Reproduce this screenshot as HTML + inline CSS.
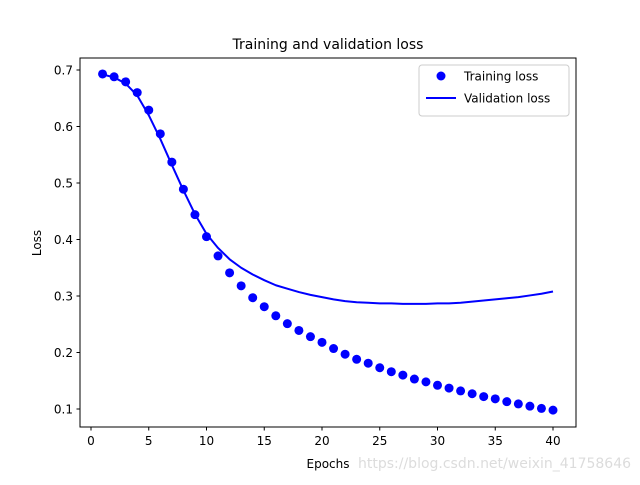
<!DOCTYPE html>
<html><head><meta charset="utf-8"><style>
body{margin:0;background:#fff}
svg text{font-family:"DejaVu Sans","Liberation Sans",sans-serif;fill:#000}
</style></head><body>
<svg id="chart" width="640" height="480" viewBox="0 0 640 480" xmlns="http://www.w3.org/2000/svg">
<rect x="0" y="0" width="640" height="480" fill="#fff"/>
<text x="328" y="49" font-size="14" text-anchor="middle">Training and validation loss</text>
<g id="plot"></g>
<rect x="80" y="58" width="496" height="369" fill="none" stroke="#000" stroke-width="1"/>
<g id="xticks"></g><g id="yticks"></g>
<text x="328" y="468" font-size="12" text-anchor="middle">Epochs</text>
<text transform="translate(41,243) rotate(-90)" font-size="12" text-anchor="middle">Loss</text>
<g>
<rect x="419" y="65" width="150" height="51" rx="3" fill="#fff" fill-opacity="0.8" stroke="#ccc"/>
<circle cx="441" cy="76" r="4.5" fill="#0000ff"/>
<text x="464" y="80.5" font-size="12">Training loss</text>
<line x1="426" y1="98" x2="456" y2="98" stroke="#0000ff" stroke-width="2"/>
<text x="464" y="102.5" font-size="12">Validation loss</text>
</g>
<text x="358" y="468" font-size="14" style="fill:#dcdcdc">https://blog.csdn.net/weixin_41758646</text>
</svg>
<script>
const epochs=[1,2,3,4,5,6,7,8,9,10,11,12,13,14,15,16,17,18,19,20,21,22,23,24,25,26,27,28,29,30,31,32,33,34,35,36,37,38,39,40];
const trainLoss=[0.693,0.688,0.679,0.660,0.629,0.587,0.537,0.489,0.444,0.405,0.371,0.341,0.318,0.297,0.281,0.265,0.251,0.239,0.228,0.218,0.207,0.197,0.188,0.181,0.173,0.166,0.160,0.153,0.148,0.142,0.137,0.132,0.127,0.122,0.118,0.113,0.109,0.105,0.101,0.098];
const valLoss=[0.692,0.687,0.676,0.655,0.620,0.578,0.532,0.487,0.445,0.410,0.385,0.365,0.350,0.338,0.328,0.319,0.313,0.307,0.302,0.298,0.294,0.291,0.289,0.288,0.287,0.287,0.286,0.286,0.286,0.287,0.287,0.288,0.290,0.292,0.294,0.296,0.298,0.301,0.304,0.308];
const xTicks=[0,5,10,15,20,25,30,35,40];
const yTicks=[0.1,0.2,0.3,0.4,0.5,0.6,0.7];
const NS="http://www.w3.org/2000/svg";
function xs(v){return 91+v*11.55;}
function ys(v){return 70+(0.7-v)*565;}
function mk(tag,attrs,parent){const e=document.createElementNS(NS,tag);for(const k in attrs)e.setAttribute(k,attrs[k]);parent.appendChild(e);return e;}
const plot=document.getElementById('plot');
const pts=epochs.map((e,i)=>xs(e).toFixed(2)+','+ys(valLoss[i]).toFixed(2)).join(' ');
const pl=mk('polyline',{points:pts,fill:'none',stroke:'#0000ff','stroke-width':2,'stroke-linejoin':'round'},plot);


epochs.forEach((e,i)=>{
 const c=mk('circle',{cx:xs(e),cy:ys(trainLoss[i]),r:4.5,fill:'#0000ff'},plot);
 
 
});
const xg=document.getElementById('xticks');
xTicks.forEach(t=>{
 const x=xs(t);
 const l=mk('line',{x1:x,y1:427,x2:x,y2:430.5,stroke:'#000'},xg);
 
 
 const tx=mk('text',{x:x,y:445,'font-size':12,'text-anchor':'middle'},xg);
 tx.textContent=t;
 
 
});
const yg=document.getElementById('yticks');
yTicks.forEach(t=>{
 const y=ys(t);
 const l=mk('line',{x1:76.5,y1:y,x2:80,y2:y,stroke:'#000'},yg);
 
 
 const tx=mk('text',{x:73,y:y+4.5,'font-size':12,'text-anchor':'end'},yg);
 tx.textContent=t.toFixed(1);
 
 
});
</script>
</body></html>
